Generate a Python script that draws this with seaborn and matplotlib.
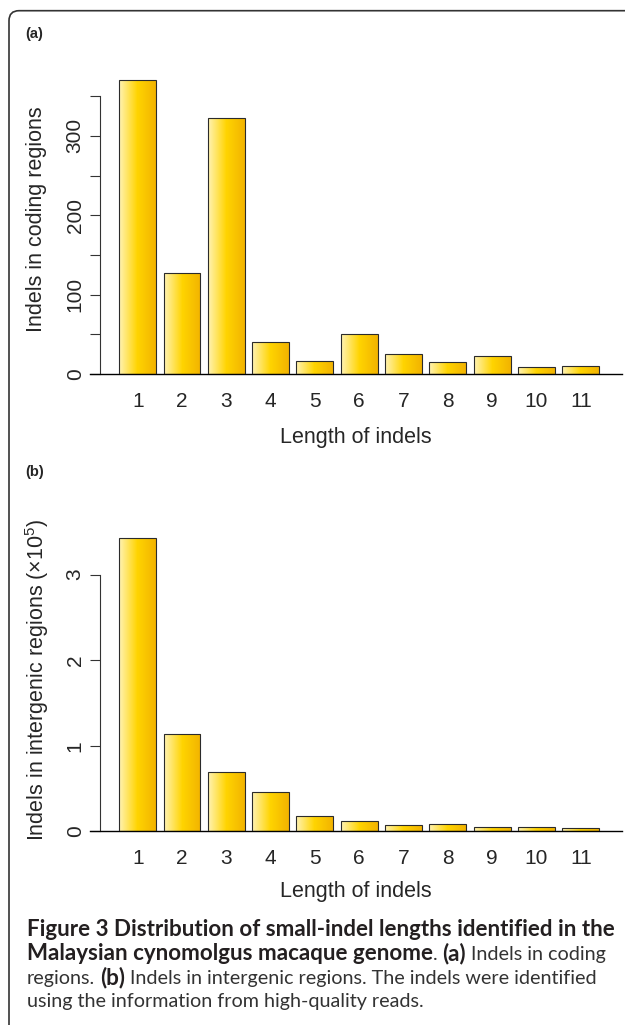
import numpy as np
import pandas as pd
import matplotlib
matplotlib.use("Agg")
import matplotlib.pyplot as plt
import seaborn as sns
from matplotlib.colors import LinearSegmentedColormap
from matplotlib.patches import FancyBboxPatch

# data
lengths = [str(i) for i in range(1, 12)]
coding = [370, 127, 323, 40, 17, 51, 25, 15, 23, 9, 10]
intergenic = [3.43, 1.14, 0.69, 0.455, 0.18, 0.115, 0.07, 0.085, 0.055, 0.053, 0.043]

coding_major = [0, 100, 200, 300]
coding_minor = [50, 150, 250, 350]
intergenic_major = [0, 1, 2, 3]

sns.set_theme(style="white")
plt.rcParams["font.family"] = ["Liberation Sans", "DejaVu Sans"]

W, H = 625, 1025
fig = plt.figure(figsize=(W / 100, H / 100), dpi=100)


def px_axes(left, top, right, bottom):
    return fig.add_axes([left / W, 1 - bottom / H, (right - left) / W, (bottom - top) / H])


gold = LinearSegmentedColormap.from_list("gold", ["#fff3b5", "#ffd400", "#f2b300"])
grad = np.linspace(0, 1, 256).reshape(1, -1)


def panel(ax, vals, ylabel, ytop, major, minor, ylab_y, xlab_y):
    df = pd.DataFrame({"length": lengths, "count": vals})
    sns.barplot(data=df, x="length", y="count", order=lengths, ax=ax, width=1 / 1.2,
                color="#ffd400", saturation=1, edgecolor="#2b2b2b", linewidth=0.8)
    # horizontal gradient fill inside each bar
    for p in list(ax.patches):
        x0, y0, w, h = p.get_x(), p.get_y(), p.get_width(), p.get_height()
        im = ax.imshow(grad, cmap=gold, extent=(x0, x0 + w, y0, y0 + h),
                       aspect="auto", zorder=2.5, interpolation="bilinear")
        im.set_clip_path(p)
        p.set_facecolor("none")
        p.set_zorder(3)

    ax.set_xlim(-1.077, 10.93)
    ax.set_ylim(0, ytop)
    for s in ["top", "right"]:
        ax.spines[s].set_visible(False)
    ax.spines["left"].set_position(("axes", 10 / 532))
    ax.spines["left"].set_bounds(major[0], max(major + minor))
    ax.spines["left"].set_color("#333333")
    ax.spines["left"].set_linewidth(0.8)
    ax.spines["bottom"].set_color("black")
    ax.spines["bottom"].set_linewidth(1.0)

    ax.set_yticks(major)
    ax.set_yticks(minor, minor=True)
    ax.tick_params(axis="y", which="both", left=True, length=7, width=0.8,
                   color="#333333", labelsize=15, pad=4, labelrotation=90)
    for lab in ax.get_yticklabels():
        lab.set_va("center")
    ax.tick_params(axis="x", bottom=False, length=0, labelsize=15, pad=13)

    ax.set_ylabel(ylabel, fontsize=15.5, va="center")
    ax.yaxis.set_label_coords(-(90 - 36.7) / 532, ylab_y)
    ax.set_xlabel("Length of indels", fontsize=15.5, va="center")
    ax.xaxis.set_label_coords(0.5, xlab_y)


ax_a = px_axes(90, 70, 622, 374)
panel(ax_a, coding, "Indels in coding regions", 383, coding_major, coding_minor,
      (374 - 219) / 304, (374 - 437) / 304)

ax_b = px_axes(90, 520, 622, 831.3)
panel(ax_b, intergenic, r"Indels in intergenic regions (×10$\mathregular{^{5}}$)", 3.638,
      intergenic_major, [], (831.3 - 680) / 311.3, (831.3 - 892) / 311.3)

fig.text(25 / W, 1 - 34 / H, "(a)", fontsize=10.5, fontweight="bold", va="center")
fig.text(25 / W, 1 - 472 / H, "(b)", fontsize=10.5, fontweight="bold", va="center")

# frame with rounded top-left corner (left and top edges only visible)
frame = FancyBboxPatch((0.09, -1), 10, (H - 10.7) / 100 + 1,
                       boxstyle="round,pad=0,rounding_size=0.1",
                       transform=fig.dpi_scale_trans, fill=False,
                       edgecolor="#333333", linewidth=1.2)
fig.add_artist(frame)

# caption, drawn run by run so bold and regular parts can mix
renderer = fig.canvas.get_renderer()
cap_font = "Lato"


def text_width(s, size, bold):
    t = fig.text(0, 0, s, fontsize=size, fontweight="bold" if bold else "normal", family=cap_font)
    w = t.get_window_extent(renderer).width
    t.remove()
    return w


def space_width(size, bold):
    return text_width("x x", size, bold) - text_width("xx", size, bold)


caption = [
    [("Figure 3 Distribution of small-indel lengths identified in the", True, False)],
    [("Malaysian cynomolgus macaque genome", True, False), (".", False, True),
     ("(a)", True, True), ("Indels in coding", False, False)],
    [("regions.", False, True), ("(b)", True, True),
     ("Indels in intergenic regions. The indels were identified", False, False)],
    [("using the information from high-quality reads.", False, False)],
]
baselines = [935.5, 960, 984, 1007.5]
cap_x = 26.7

# bold size from line 1 (ends at x=615), regular size from line 3 (ends at x=598)
bold_size = 13 * (615 - cap_x) / text_width(caption[0][0][0], 13, True)
l3 = caption[2]
fixed = text_width(l3[1][0], bold_size, True)
unit = (text_width(l3[0][0], 10, False) + text_width(l3[2][0], 10, False)
        + 2 * space_width(10, False)) / 10
reg_size = (598 - cap_x - fixed) / unit
sizes = {True: bold_size, False: reg_size}
sp = space_width(reg_size, False)

for runs, base in zip(caption, baselines):
    x = cap_x
    for txt, bold, space in runs:
        t = fig.text(x / W, 1 - base / H, txt, fontsize=sizes[bold], family=cap_font,
                     fontweight="bold" if bold else "normal",
                     color="#231f20" if bold else "#333333", va="baseline")
        x += t.get_window_extent(renderer).width
        if space:
            x += sp

fig.savefig("out.png", dpi=100)
